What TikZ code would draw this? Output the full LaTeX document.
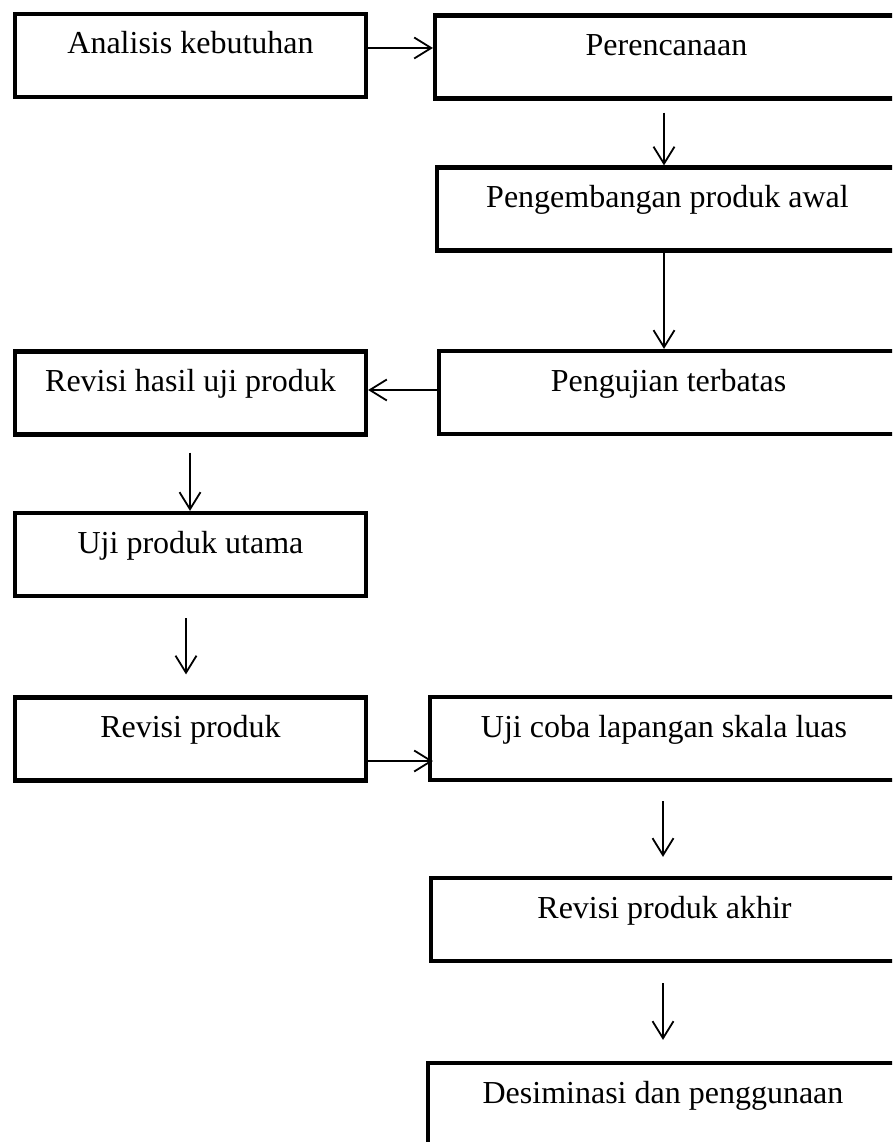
\documentclass[tikz,border=0pt]{standalone}
\usepackage{fontspec}
\setmainfont{Liberation Serif}
\usetikzlibrary{arrows.meta}
\tikzset{
  box/.style={draw, line width=4.2pt, rectangle, inner sep=0pt, minimum height=83pt,
    text height=40pt, text depth=43pt, font=\fontsize{32}{38}\selectfont},
  lbox/.style={box, minimum width=351pt},
  arr/.style={line width=1.8pt, -{Straight Barb[length=17pt,width=21pt,line width=1.8pt]}}
}
\begin{document}
\begin{tikzpicture}[x=1pt,y=-1pt]
\useasboundingbox (0,0) rectangle (892,1142);
\clip (0,0) rectangle (892,1142);
\fill[white] (0,0) rectangle (892,1142);
% left column
\node[lbox] (A)  at (190.5,55.5) {Analisis kebutuhan};
\node[lbox] (RH) at (190.5,393)  {Revisi hasil uji produk};
\node[lbox] (UU) at (190.5,554.5) {Uji produk utama};
\node[lbox] (RP) at (190.5,739)  {Revisi produk};
% right column (cut off at right edge)
\node[box, minimum width=463pt] (P)  at (666.5,57)    {Perencanaan};
\node[box, minimum width=461pt] (PA) at (667.5,209)   {Pengembangan produk awal};
\node[box, minimum width=459pt] (PT) at (668.5,392.5) {Pengujian terbatas};
\node[box, minimum width=468pt] (UC) at (664,738.5)   {Uji coba lapangan skala luas};
\node[box, minimum width=467pt] (RA) at (664.5,919.5) {Revisi produk akhir};
\node[box, minimum width=470pt] (DP) at (663,1104.5)  {Desiminasi dan penggunaan};
% connector anchors
\coordinate (c1) at ([yshift=7.5pt]A.east);
\coordinate (c2) at ([xshift=-2.5pt]P.south);
\coordinate (c3) at ([xshift=-3.5pt]PA.south);
\coordinate (c4) at ([yshift=2.5pt]PT.west);
\coordinate (c5) at ([xshift=-0.5pt]RH.south);
\coordinate (c6) at ([xshift=-4.5pt]UU.south);
\coordinate (c7) at ([yshift=-22pt]RP.east);
\coordinate (c8) at ([xshift=-1pt]UC.south);
\coordinate (c9) at ([xshift=-1.5pt]RA.south);
% connectors
\draw[arr] (c1) -- (c1 -| P.west);
\draw[arr, shorten <=12pt] (c2) -- (c2 |- PA.north);
\draw[arr] (c3) -- (c3 |- PT.north);
\draw[arr] (c4) -- (c4 -| RH.east);
\draw[arr, shorten <=16pt] (c5) -- (c5 |- UU.north);
\draw[arr, shorten <=20pt, shorten >=21pt] (c6) -- (c6 |- RP.north);
\draw[arr, shorten >=-5pt] (c7) -- (c7 -| UC.west);
\draw[arr, shorten <=19pt, shorten >=19pt] (c8) -- (c8 |- RA.north);
\draw[arr, shorten <=20pt, shorten >=21pt] (c9) -- (c9 |- DP.north);
\end{tikzpicture}
\end{document}
